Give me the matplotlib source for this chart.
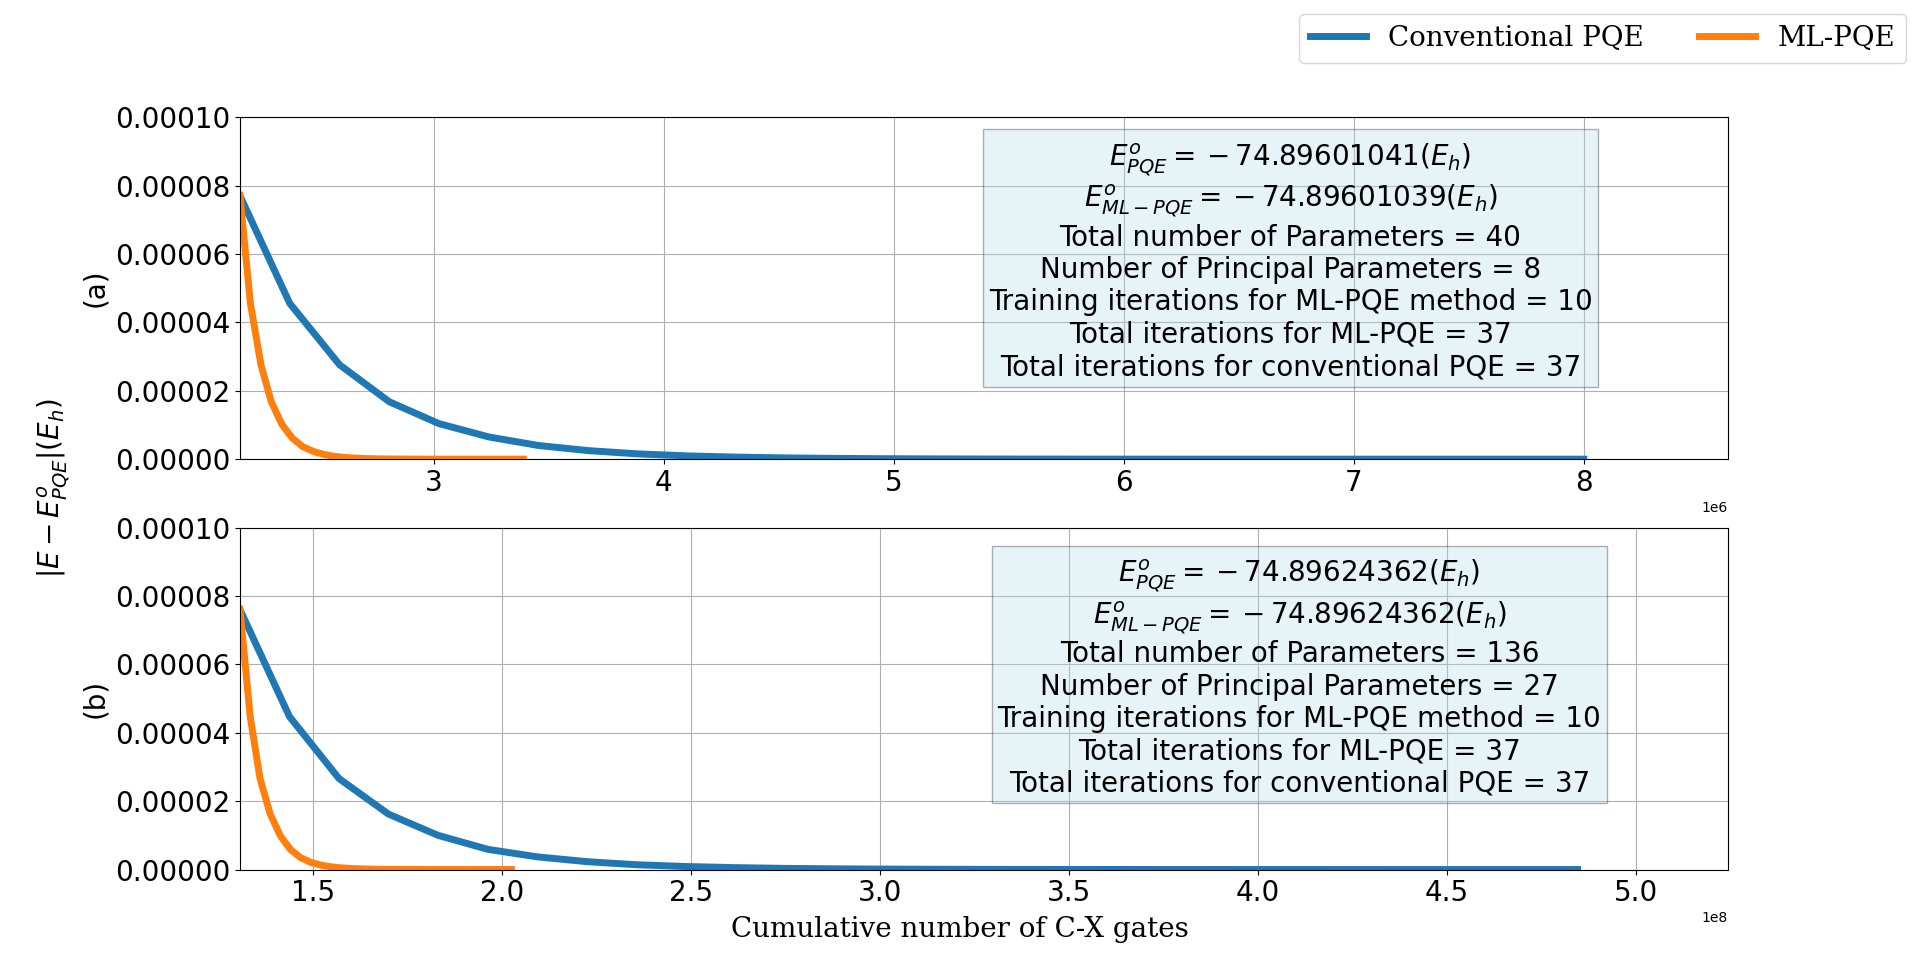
import matplotlib
matplotlib.use("Agg")
import matplotlib.pyplot as plt

# ---- data (x in C-X gate counts, y in Hartree) ----
# (a) small system: iterations 10..37 after the ML training phase
gates_a_pqe = [2.158e6, 2.374e6, 2.591e6, 2.807e6, 3.023e6, 3.240e6, 3.456e6,
               3.673e6, 3.889e6, 4.105e6, 4.322e6, 4.538e6, 4.754e6, 4.971e6,
               5.187e6, 5.403e6, 5.620e6, 5.836e6, 6.053e6, 6.269e6, 6.485e6,
               6.702e6, 6.918e6, 7.134e6, 7.351e6, 7.567e6, 7.784e6, 8.000e6]
err_a_pqe = [7.70e-5, 4.56e-5, 2.76e-5, 1.68e-5, 1.04e-5, 6.5e-6, 4.0e-6,
             2.5e-6, 1.55e-6, 9.6e-7, 6.0e-7, 3.7e-7, 2.3e-7, 1.4e-7,
             9.0e-8, 5.5e-8, 3.4e-8, 2.1e-8, 1.3e-8, 8.0e-9, 5.0e-9,
             3.0e-9, 2.0e-9, 1.2e-9, 7.0e-10, 4.0e-10, 2.0e-10, 0.0]

gates_a_ml = [2.158e6, 2.203e6, 2.249e6, 2.294e6, 2.340e6, 2.385e6, 2.430e6,
              2.476e6, 2.521e6, 2.567e6, 2.612e6, 2.657e6, 2.703e6, 2.748e6,
              2.794e6, 2.839e6, 2.884e6, 2.930e6, 2.975e6, 3.021e6, 3.066e6,
              3.111e6, 3.157e6, 3.202e6, 3.248e6, 3.293e6, 3.338e6, 3.390e6]
err_a_ml = [7.70e-5, 4.57e-5, 2.76e-5, 1.68e-5, 1.02e-5, 6.2e-6, 3.7e-6,
            2.3e-6, 1.4e-6, 8.5e-7, 5.2e-7, 3.2e-7, 2.0e-7, 1.2e-7,
            7.5e-8, 5.0e-8, 3.5e-8, 2.8e-8, 2.4e-8, 2.2e-8, 2.1e-8,
            2.0e-8, 2.0e-8, 2.0e-8, 2.0e-8, 2.0e-8, 2.0e-8, 2.0e-8]

# (b) larger system
gates_b_pqe = [1.306e8, 1.437e8, 1.568e8, 1.699e8, 1.830e8, 1.962e8, 2.093e8,
               2.224e8, 2.355e8, 2.486e8, 2.617e8, 2.748e8, 2.879e8, 3.010e8,
               3.141e8, 3.272e8, 3.404e8, 3.535e8, 3.666e8, 3.797e8, 3.928e8,
               4.059e8, 4.190e8, 4.321e8, 4.452e8, 4.583e8, 4.714e8, 4.845e8]
err_b_pqe = [7.60e-5, 4.47e-5, 2.66e-5, 1.62e-5, 1.00e-5, 5.9e-6, 3.7e-6,
             2.3e-6, 1.4e-6, 8.8e-7, 5.5e-7, 3.4e-7, 2.1e-7, 1.3e-7,
             8.0e-8, 5.0e-8, 3.0e-8, 1.9e-8, 1.2e-8, 7.0e-9, 4.5e-9,
             2.8e-9, 1.7e-9, 1.0e-9, 6.0e-10, 4.0e-10, 2.0e-10, 0.0]

gates_b_ml = [1.306e8, 1.333e8, 1.359e8, 1.386e8, 1.413e8, 1.440e8, 1.466e8,
              1.493e8, 1.520e8, 1.546e8, 1.573e8, 1.600e8, 1.626e8, 1.653e8,
              1.680e8, 1.706e8, 1.733e8, 1.760e8, 1.786e8, 1.813e8, 1.840e8,
              1.867e8, 1.893e8, 1.920e8, 1.947e8, 1.973e8, 2.000e8, 2.024e8]
err_b_ml = [7.60e-5, 4.47e-5, 2.66e-5, 1.62e-5, 9.8e-6, 5.8e-6, 3.5e-6,
            2.1e-6, 1.3e-6, 8.0e-7, 5.0e-7, 3.1e-7, 1.9e-7, 1.2e-7,
            7.0e-8, 4.5e-8, 3.0e-8, 2.0e-8, 1.5e-8, 1.0e-8, 8.0e-9,
            6.0e-9, 5.0e-9, 4.0e-9, 3.0e-9, 2.0e-9, 1.0e-9, 0.0]

info_a = ("$E^o_{PQE}{=}-74.89601041(E_h)$\n"
          "$E^o_{ML-PQE}{=}-74.89601039(E_h)$\n"
          "Total number of Parameters = 40\n"
          "Number of Principal Parameters = 8\n"
          "Training iterations for ML-PQE method = 10\n"
          "Total iterations for ML-PQE = 37\n"
          "Total iterations for conventional PQE = 37")
info_b = ("$E^o_{PQE}{=}-74.89624362(E_h)$\n"
          "$E^o_{ML-PQE}{=}-74.89624362(E_h)$\n"
          "Total number of Parameters = 136\n"
          "Number of Principal Parameters = 27\n"
          "Training iterations for ML-PQE method = 10\n"
          "Total iterations for ML-PQE = 37\n"
          "Total iterations for conventional PQE = 37")

fig, (ax1, ax2) = plt.subplots(2, 1, figsize=(19.2, 9.77), dpi=100)

panels = [
    (ax1, gates_a_pqe, err_a_pqe, gates_a_ml, err_a_ml, "(a)", info_a,
     (2.158e6, 8.627e6), (0.706, 0.579)),
    (ax2, gates_b_pqe, err_b_pqe, gates_b_ml, err_b_ml, "(b)", info_b,
     (1.306e8, 5.243e8), (0.712, 0.561)),
]

for ax, xp, yp, xm, ym, tag, info, xlim, pos in panels:
    ax.plot(xp, yp, color="tab:blue", linewidth=5, label="Conventional PQE")
    ax.plot(xm, ym, color="tab:orange", linewidth=5, label="ML-PQE")
    ax.set_xlim(*xlim)
    ax.set_ylim(0, 1e-4)
    ax.set_ylabel(tag, fontsize=20)
    ax.tick_params(labelsize=20)
    ax.xaxis.get_offset_text().set_fontsize(10)
    ax.grid(True)
    ax.text(pos[0], pos[1], info, transform=ax.transAxes, fontsize=20,
            ha="center", va="center", multialignment="center",
            bbox=dict(facecolor="lightblue", alpha=0.3))

handles, labels = ax1.get_legend_handles_labels()
fig.legend(handles, labels, loc="upper right", ncol=2,
           prop={"family": "DejaVu Serif", "size": 20})

fig.text(0.5, 0.041, "Cumulative number of C-X gates", ha="center",
         fontsize=20, family="DejaVu Serif")
fig.text(0.0278, 0.5, r"$|E - E^o_{PQE}| (E_h)$", ha="center", va="center",
         rotation=90, fontsize=20)

plt.savefig("out.png", dpi=100)
